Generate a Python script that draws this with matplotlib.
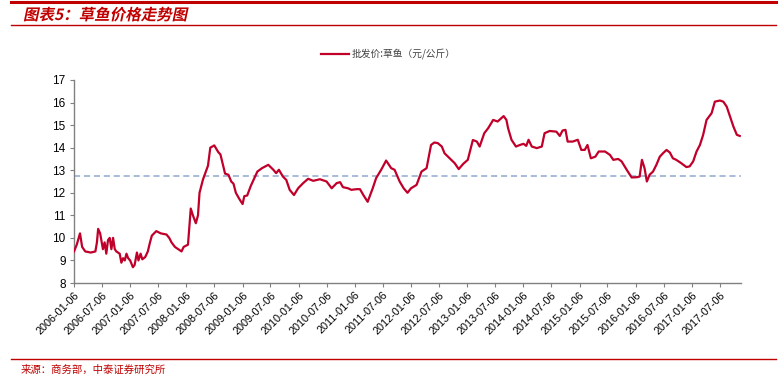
import matplotlib
matplotlib.use("Agg")
import matplotlib.pyplot as plt
import pandas as pd
from matplotlib.textpath import TextPath
from matplotlib.patches import PathPatch
from matplotlib.font_manager import FontProperties
from matplotlib.transforms import Affine2D, IdentityTransform

plt.rcParams['font.family'] = ['Liberation Sans', 'Noto Sans CJK SC', 'DejaVu Sans']

# 批发价：草鱼（元/公斤），读图估计
dates = [
    "2006-01-06", "2006-01-24", "2006-02-14", "2006-02-28", "2006-03-20", "2006-04-25",
    "2006-05-25", "2006-06-04", "2006-06-12", "2006-06-25", "2006-07-13", "2006-07-24",
    "2006-08-04", "2006-08-15", "2006-08-26", "2006-09-06", "2006-09-17", "2006-09-28",
    "2006-10-08", "2006-10-30", "2006-11-10", "2006-11-21", "2006-12-02", "2006-12-13",
    "2006-12-24", "2007-01-06", "2007-01-24", "2007-02-04", "2007-02-19", "2007-03-01",
    "2007-03-15", "2007-03-26", "2007-04-14", "2007-05-01", "2007-05-15", "2007-05-27",
    "2007-06-25", "2007-07-24", "2007-08-30", "2007-09-17", "2007-10-02", "2007-10-24",
    "2007-11-15", "2007-12-06", "2007-12-20", "2008-01-17", "2008-02-04", "2008-02-18",
    "2008-03-08", "2008-03-22", "2008-04-01", "2008-04-24", "2008-05-15", "2008-05-26",
    "2008-06-10", "2008-07-06", "2008-08-01", "2008-08-15", "2008-08-29", "2008-09-14",
    "2008-10-06", "2008-10-24", "2008-11-08", "2008-11-23", "2008-12-18", "2009-01-06",
    "2009-01-17", "2009-02-05", "2009-02-28", "2009-03-20", "2009-04-12", "2009-05-12",
    "2009-06-22", "2009-07-25", "2009-08-12", "2009-08-30", "2009-09-25", "2009-10-17",
    "2009-11-08", "2009-12-06", "2010-01-02", "2010-02-04", "2010-03-08", "2010-04-10",
    "2010-05-24", "2010-07-06", "2010-08-08", "2010-09-10", "2010-10-02", "2010-10-20",
    "2010-11-22", "2010-12-14", "2011-01-17", "2011-02-08", "2011-03-02", "2011-03-30",
    "2011-05-02", "2011-05-24", "2011-06-26", "2011-07-28", "2011-08-30", "2011-09-21",
    "2011-10-24", "2011-11-19", "2011-12-14", "2012-01-06", "2012-02-11", "2012-03-14",
    "2012-04-16", "2012-05-15", "2012-06-06", "2012-06-28", "2012-07-24", "2012-08-11",
    "2012-09-13", "2012-10-16", "2012-11-11", "2012-12-10", "2013-01-09", "2013-02-11",
    "2013-03-09", "2013-03-27", "2013-04-26", "2013-05-21", "2013-06-23", "2013-07-22",
    "2013-08-30", "2013-09-17", "2013-09-28", "2013-10-20", "2013-11-18", "2013-12-14",
    "2014-01-06", "2014-01-24", "2014-02-08", "2014-03-01", "2014-04-03", "2014-05-05",
    "2014-05-23", "2014-06-25", "2014-08-08", "2014-08-30", "2014-09-17", "2014-10-06",
    "2014-10-20", "2014-11-22", "2014-12-25", "2015-01-17", "2015-02-08", "2015-02-26",
    "2015-03-20", "2015-04-18", "2015-05-10", "2015-06-20", "2015-07-22", "2015-08-13",
    "2015-09-14", "2015-10-06", "2015-11-08", "2015-12-10", "2016-01-13", "2016-01-31",
    "2016-02-15", "2016-03-03", "2016-03-18", "2016-04-05", "2016-04-27", "2016-05-19",
    "2016-06-10", "2016-07-02", "2016-07-24", "2016-08-15", "2016-09-03", "2016-09-25",
    "2016-10-28", "2016-11-30", "2016-12-21", "2017-01-13", "2017-02-04", "2017-02-26",
    "2017-03-19", "2017-04-10", "2017-05-13", "2017-06-03", "2017-07-06", "2017-07-28",
    "2017-08-19", "2017-09-10", "2017-10-02", "2017-10-24", "2017-11-12",
]
prices = [
    9.40, 9.70, 10.20, 9.60, 9.40, 9.35,
    9.40, 9.80, 10.40, 10.20, 9.50, 9.80,
    9.30, 9.90, 10.00, 9.50, 10.00, 9.50,
    9.40, 9.30, 8.90, 9.10, 9.00, 9.30,
    9.10, 9.00, 8.70, 8.80, 9.35, 9.00,
    9.30, 9.05, 9.15, 9.40, 9.80, 10.10,
    10.30, 10.20, 10.15, 10.00, 9.80, 9.60,
    9.50, 9.40, 9.60, 9.70, 11.30, 11.00,
    10.65, 11.00, 12.00, 12.60, 13.00, 13.20,
    14.00, 14.10, 13.80, 13.70, 13.30, 12.85,
    12.80, 12.50, 12.40, 12.00, 11.70, 11.50,
    11.85, 11.88, 12.30, 12.60, 12.94, 13.09,
    13.24, 13.02, 12.87, 13.02, 12.72, 12.57,
    12.13, 11.90, 12.20, 12.43, 12.62, 12.53,
    12.60, 12.50, 12.20, 12.43, 12.47, 12.25,
    12.20, 12.13, 12.16, 12.16, 11.90, 11.60,
    12.20, 12.65, 13.02, 13.43, 13.09, 13.02,
    12.50, 12.20, 12.00, 12.20, 12.35, 12.94,
    13.09, 14.12, 14.23, 14.20, 14.05, 13.75,
    13.53, 13.31, 13.05, 13.28, 13.46, 14.34,
    14.27, 14.05, 14.64, 14.86, 15.23, 15.16,
    15.40, 15.23, 14.86, 14.35, 14.05, 14.12,
    14.17, 14.08, 14.35, 14.05, 13.98, 14.05,
    14.64, 14.74, 14.71, 14.52, 14.76, 14.79,
    14.27, 14.27, 14.35, 13.90, 13.90, 14.12,
    13.53, 13.60, 13.83, 13.83, 13.68, 13.46,
    13.50, 13.39, 13.02, 12.68, 12.69, 12.72,
    13.46, 13.09, 12.50, 12.80, 12.94, 13.24,
    13.60, 13.76, 13.90, 13.78, 13.53, 13.46,
    13.31, 13.14, 13.17, 13.39, 13.83, 14.12,
    14.57, 15.23, 15.53, 16.04, 16.09, 16.04,
    15.82, 15.38, 14.93, 14.57, 14.52,
]
mean_price = 12.76
tick_labels = [f"{y}-{m}-06" for y in range(2006, 2018) for m in ("01", "07")]
y_ticks = list(range(8, 18))
title_text = "图表5：草鱼价格走势图"
legend_text = "批发价:草鱼（元/公斤）"
source_text = "来源：商务部，中泰证券研究所"

W, H = 781, 380
fig = plt.figure(figsize=(W / 100, H / 100), dpi=100)
ax = fig.add_axes([74 / W, 1 - 283 / H, (741 - 74) / W, (283 - 80) / H])

x = pd.to_datetime(dates)
ax.plot(x, prices, color="#C0002A", lw=1.6, zorder=3)
ax.axhline(mean_price, color="#8FA8D0", lw=1.1, ls=(0, (4, 2.5)), zorder=2)

ax.set_ylim(8, 17)
ax.set_yticks(y_ticks)
ax.set_xlim(pd.Timestamp("2006-01-06"), pd.Timestamp("2017-11-20"))
ax.set_xticks(pd.to_datetime(tick_labels))
ax.set_xticklabels(tick_labels, rotation=45, ha="right", va="top",
                   rotation_mode="anchor")
ax.tick_params(axis="x", labelsize=7.8, length=3, color="#808080", pad=2)
ax.tick_params(axis="y", labelsize=8.5, length=3, color="#808080", pad=3)
for s in ["top", "right"]:
    ax.spines[s].set_visible(False)
for s in ["left", "bottom"]:
    ax.spines[s].set_color("#808080")
    ax.spines[s].set_linewidth(1.0)

# 图例
fig.add_artist(plt.Line2D([321 / W, 349 / W], [1 - 54 / H, 1 - 54 / H],
                          color="#C0002A", lw=1.6, transform=fig.transFigure))
fig.text(352 / W, 1 - 54 / H, legend_text, fontsize=7, color="#404040",
         family=["Noto Sans CJK SC", "DejaVu Sans"], va="center", ha="left")

# 标题和分隔线
fig.add_artist(plt.Line2D([11 / W, 776 / W], [1 - 2.2 / H, 1 - 2.2 / H],
                          color="#C00000", lw=2.2, transform=fig.transFigure))
fig.add_artist(plt.Line2D([11 / W, 776 / W], [1 - 25 / H, 1 - 25 / H],
                          color="#C00000", lw=1.0, transform=fig.transFigure))
fig.add_artist(plt.Line2D([11 / W, 776 / W], [1 - 359 / H, 1 - 359 / H],
                          color="#C00000", lw=1.0, transform=fig.transFigure))

tp = TextPath((0, 0), title_text, size=15.5,
              prop=FontProperties(family="Noto Sans CJK SC", weight="bold"))
tr = Affine2D().skew_deg(12, 0).translate(23, H - 20)
fig.add_artist(PathPatch(tp, transform=tr + IdentityTransform(), color="#C00000", lw=0))

fig.text(21 / W, 1 - 370 / H, source_text, fontsize=7.5, color="#C00000",
         family=["Noto Sans CJK SC", "DejaVu Sans"], va="center", ha="left")

fig.savefig("out.png", dpi=100)
